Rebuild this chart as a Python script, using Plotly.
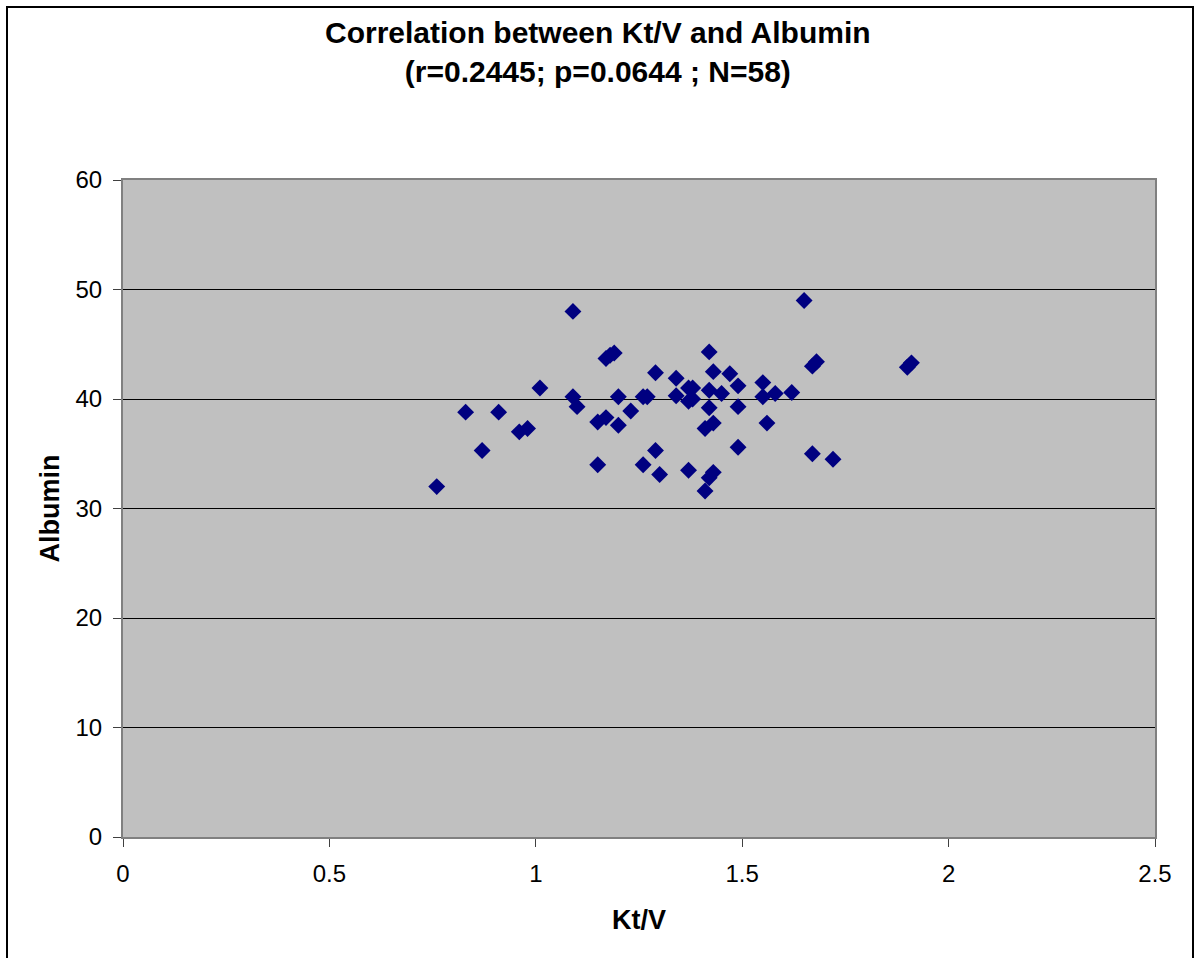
import plotly.graph_objects as go

ktv = [0.76, 0.83, 0.87, 0.91, 0.96, 0.98, 1.01, 1.09, 1.09, 1.10,
       1.15, 1.15, 1.17, 1.17, 1.19, 1.20, 1.20, 1.23, 1.26, 1.29,
       1.30, 1.29, 1.26, 1.27, 1.34, 1.34, 1.37, 1.38, 1.37, 1.42,
       1.43, 1.42, 1.45, 1.42, 1.47, 1.49, 1.49, 1.43, 1.41, 1.55,
       1.55, 1.58, 1.62, 1.56, 1.49, 1.65, 1.68, 1.67, 1.91, 1.90,
       1.67, 1.72, 1.37, 1.43, 1.42, 1.41, 1.38, 1.18]
albumin = [32.0, 38.8, 35.3, 38.8, 37.0, 37.3, 41.0, 48.0, 40.2, 39.3,
           34.0, 37.9, 38.3, 43.7, 44.2, 37.6, 40.2, 38.9, 34.0, 35.3,
           33.1, 42.4, 40.2, 40.2, 41.9, 40.3, 41.0, 41.0, 39.8, 44.3,
           42.5, 40.8, 40.5, 39.2, 42.3, 41.2, 39.3, 37.8, 37.3, 41.5,
           40.2, 40.5, 40.6, 37.8, 35.6, 49.0, 43.4, 43.0, 43.3, 42.9,
           35.0, 34.5, 33.5, 33.3, 32.8, 31.6, 40.0, 44.0]

x_ticks = [0, 0.5, 1, 1.5, 2, 2.5]
x_tick_labels = ["0", "0.5", "1", "1.5", "2", "2.5"]
y_ticks = [0, 10, 20, 30, 40, 50, 60]

title_text = "Correlation between Kt/V and Albumin<br>(r=0.2445; p=0.0644 ; N=58)"

FONT = "Liberation Sans, Arial, sans-serif"

fig = go.Figure()
fig.add_trace(go.Scatter(
    x=ktv, y=albumin, mode="markers",
    marker=dict(symbol="diamond", size=13, color="#000080",
                line=dict(width=0)),
    showlegend=False,
))

W, H = 1196, 958
L, R, T, B = 123, 1155, 180, 837
pw, ph = R - L, B - T

fig.update_layout(
    width=W, height=H,
    margin=dict(l=L, r=W - R, t=T, b=H - B),
    paper_bgcolor="white",
    plot_bgcolor="#C0C0C0",
    font=dict(family=FONT, color="black"),
    annotations=[dict(
        text="<b>" + title_text + "</b>",
        xref="paper", yref="paper",
        x=(598 - L) / pw, y=(B - 52) / ph,
        xanchor="center", yanchor="middle", showarrow=False,
        font=dict(size=30, family=FONT),
    )],
    xaxis=dict(
        range=[0, 2.5], tickvals=x_ticks, ticktext=x_tick_labels,
        showgrid=False, zeroline=False,
        showline=True, linecolor="#808080", linewidth=2, mirror=True,
        ticks="outside", ticklen=8, tickcolor="#404040", tickwidth=1,
        ticklabelstandoff=6,
        tickfont=dict(size=24, family=FONT),
        title=dict(text="<b>Kt/V</b>", font=dict(size=27, family=FONT), standoff=24),
    ),
    yaxis=dict(
        range=[0, 60], tickvals=y_ticks,
        showgrid=True, gridcolor="black", gridwidth=1,
        zeroline=False,
        showline=True, linecolor="#808080", linewidth=2, mirror=True,
        ticks="outside", ticklen=8, tickcolor="#404040", tickwidth=1,
        ticklabelstandoff=6,
        tickfont=dict(size=24, family=FONT),
        title=dict(text="<b>Albumin</b>", font=dict(size=27, family=FONT), standoff=8),
    ),
    shapes=[dict(
        type="rect", xref="paper", yref="paper",
        x0=(7 - L) / pw, x1=(1193 - L) / pw,
        y0=(B - 1000) / ph, y1=(B - 7) / ph,
        line=dict(color="black", width=2), fillcolor="rgba(0,0,0,0)",
        layer="below",
    )],
)

fig.write_html(
    "out.html",
    config={"displayModeBar": False},
    post_script="document.body.style.margin='0';document.body.style.overflow='hidden';",
)
